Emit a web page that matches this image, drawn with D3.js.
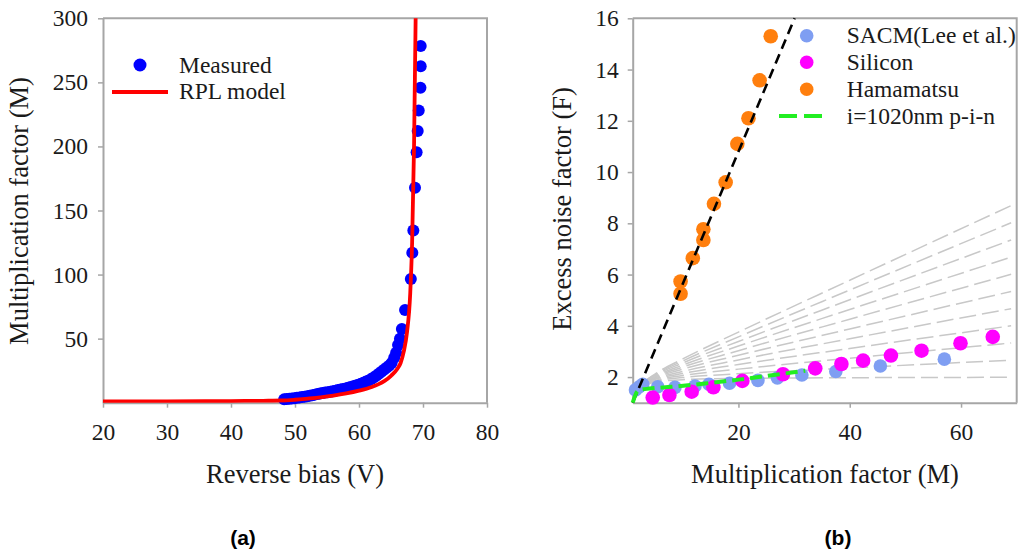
<!DOCTYPE html>
<html>
<head>
<meta charset="utf-8">
<script src="https://cdn.jsdelivr.net/npm/d3@7"></script>
<style>
  html, body { margin: 0; padding: 0; background: #fff; }
  svg { display: block; }
  text { font-family: "Liberation Serif", "Times New Roman", serif; fill: #1a1a1a; }
  text.panel { font-family: "Liberation Sans", Arial, sans-serif; font-weight: bold; fill: #000; }
</style>
</head>
<body>
<svg id="fig" width="1019" height="553"></svg>
<script>
// ---------- Panel (a): multiplication factor vs reverse bias ----------
const biasTicks = [20, 30, 40, 50, 60, 70, 80];
const gainTicksA = [50, 100, 150, 200, 250, 300];

const measuredV = [48.3, 48.7, 49.1, 49.5, 49.9, 50.3, 50.7, 51.1, 51.5, 51.9,
  52.3, 52.7, 53.1, 53.5, 53.9, 54.3, 54.7, 55.1, 55.5, 55.9,
  56.3, 56.7, 57.1, 57.5, 57.9, 58.3, 58.7, 59.1, 59.5, 59.9,
  60.3, 60.7, 61.1, 61.5, 61.9, 62.3, 62.7, 63.1, 63.5, 63.9,
  64.3, 64.7, 65.1, 65.5, 65.8, 66.1, 66.4, 66.7, 67.2, 68.1,
  68.33, 68.49, 68.75, 69.0, 69.17, 69.33, 69.6, 69.64, 69.64];
const measuredM = [2.6, 2.8, 3.0, 3.3, 3.5, 3.8, 4.1, 4.4, 4.7, 5.1,
  5.5, 5.9, 6.3, 6.7, 7.1, 7.5, 7.9, 8.2, 8.6, 9.0,
  9.4, 9.9, 10.3, 10.7, 11.1, 11.6, 12.2, 12.8, 13.4, 14.0,
  14.8, 15.6, 16.5, 17.4, 18.4, 19.6, 21.0, 22.6, 24.2, 25.8,
  27.2, 28.8, 31, 35, 39, 45, 50, 57.5, 72.4, 96.6,
  117, 134.4, 167.7, 195.5, 212, 228, 245.8, 262.5, 278.4];

const modelV = [20, 30, 40, 45, 48, 50, 52, 54, 56, 58, 60, 62, 63, 64, 65, 66, 66.5, 67, 67.5, 68, 68.3, 68.6, 68.85];
const modelM = [1, 1.1, 1.3, 1.5, 1.7, 2.3, 3.2, 4.2, 5.5, 7.2, 9.4, 12.3, 14.3, 17, 21, 26.5, 31, 40, 55, 85, 125, 200, 300];

// ---------- Panel (b): excess noise factor vs multiplication factor ----------
const gainTicksB = [20, 40, 60];
const noiseTicks = [2, 4, 6, 8, 10, 12, 14, 16];

const sacmM = [1.5, 2.2, 2.8, 5.5, 8.6, 12.2, 14.7, 18.4, 23.5, 27.0, 31.4, 37.5, 45.5, 57.0];
const sacmF = [1.5, 1.62, 1.72, 1.62, 1.6, 1.65, 1.72, 1.76, 1.87, 1.97, 2.08, 2.22, 2.43, 2.70];

const siliconM = [4.6, 7.6, 11.6, 15.5, 20.7, 28.0, 33.8, 38.5, 42.4, 47.4, 52.9, 59.9, 65.7];
const siliconF = [1.2, 1.3, 1.43, 1.6, 1.85, 2.11, 2.34, 2.51, 2.64, 2.84, 3.03, 3.32, 3.57];

const hamamatsuM = [9.6, 9.6, 11.8, 13.7, 13.7, 15.6, 17.7, 19.8, 21.8, 23.8, 25.8];
const hamamatsuF = [5.25, 5.73, 6.64, 7.35, 7.77, 8.76, 9.6, 11.1, 12.1, 13.58, 15.3];

// straight-line fit through the Hamamatsu data
const hamamatsuFitM = [1, 30.1];
const hamamatsuFitF = [1, 16];

// i = 1020 nm p-i-n simulation
const pinM = [1, 1.3, 1.7, 2.3, 4, 8, 14, 20, 26, 32];
const pinF = [1, 1.2, 1.4, 1.5, 1.55, 1.62, 1.75, 1.9, 2.07, 2.25];

// McIntyre reference curves, k = 0 ... 0.1
const kValues = [0, 0.01, 0.02, 0.03, 0.04, 0.05, 0.06, 0.07, 0.08, 0.09, 0.1];
const kCurveM = [1, 1.5, 2, 3, 5, 10, 20, 40, 69];
const kCurveF = [
  [1, 1.333, 1.5, 1.667, 1.80, 1.90, 1.95, 1.975, 1.99],
  [1, 1.335, 1.505, 1.68, 1.83, 1.98, 2.13, 2.355, 2.66],
  [1, 1.337, 1.51, 1.69, 1.86, 2.06, 2.31, 2.736, 3.33],
  [1, 1.338, 1.515, 1.71, 1.90, 2.14, 2.49, 3.116, 4.00],
  [1, 1.34, 1.52, 1.72, 1.93, 2.22, 2.67, 3.496, 4.67],
  [1, 1.342, 1.525, 1.73, 1.96, 2.31, 2.85, 3.876, 5.34],
  [1, 1.343, 1.53, 1.75, 1.99, 2.39, 3.03, 4.257, 6.01],
  [1, 1.345, 1.535, 1.76, 2.02, 2.47, 3.21, 4.637, 6.68],
  [1, 1.347, 1.54, 1.77, 2.06, 2.55, 3.39, 5.017, 7.35],
  [1, 1.348, 1.545, 1.79, 2.09, 2.63, 3.57, 5.397, 8.02],
  [1, 1.35, 1.55, 1.80, 2.12, 2.71, 3.755, 5.778, 8.69]
];

// ---------- drawing ----------
const svg = d3.select("#fig");
const AXIS = "#a6a6a6";
const FS = 23.5;

function styleAxis(g) {
  g.select(".domain").attr("stroke", AXIS).attr("stroke-width", 2);
  g.selectAll(".tick line").attr("stroke", AXIS).attr("stroke-width", 1.5);
  g.selectAll(".tick text").attr("font-size", FS)
    .style("font-family", "'Liberation Serif', 'Times New Roman', serif")
    .style("fill", "#1a1a1a");
}

function frame(x0, x1, y0, y1) {
  svg.append("path")
    .attr("d", `M${x0},${y0}H${x1}V${y1}`)
    .attr("fill", "none").attr("stroke", AXIS).attr("stroke-width", 2);
}

// ----- panel (a) -----
const ax = d3.scaleLinear().domain([20, 80]).range([103, 487]);
const ay = d3.scaleLinear().domain([0, 300]).range([402.7, 18.3]);

frame(103, 487, 18.3, 402.7);

svg.append("g").attr("transform", `translate(0,${ay(0)})`)
  .call(d3.axisBottom(ax).tickValues(biasTicks).tickSize(5).tickSizeOuter(0).tickPadding(16))
  .call(styleAxis);
svg.append("g").attr("transform", `translate(${ax(20)},0)`)
  .call(d3.axisLeft(ay).tickValues(gainTicksA).tickSize(5).tickSizeOuter(0).tickPadding(10))
  .call(styleAxis);

svg.append("clipPath").attr("id", "clipA")
  .append("rect").attr("x", ax(20)).attr("y", ay(300) - 1)
  .attr("width", ax(80) - ax(20)).attr("height", ay(0) - ay(300) + 1);

svg.append("g").selectAll("circle")
  .data(d3.range(measuredV.length))
  .join("circle")
  .attr("cx", i => ax(measuredV[i]))
  .attr("cy", i => ay(measuredM[i]))
  .attr("r", 6)
  .attr("fill", "#0000ff");

svg.append("path")
  .datum(d3.range(modelV.length))
  .attr("clip-path", "url(#clipA)")
  .attr("d", d3.line().x(i => ax(modelV[i])).y(i => ay(modelM[i])).curve(d3.curveMonotoneX))
  .attr("fill", "none").attr("stroke", "#ff0000").attr("stroke-width", 3.8);

// legend (a)
svg.append("circle").attr("cx", 140).attr("cy", 65).attr("r", 6.5).attr("fill", "#0000ff");
svg.append("text").attr("x", 179).attr("y", 73).attr("font-size", FS).text("Measured");
svg.append("line").attr("x1", 112).attr("x2", 168).attr("y1", 92).attr("y2", 92)
  .attr("stroke", "#ff0000").attr("stroke-width", 4);
svg.append("text").attr("x", 179).attr("y", 99).attr("font-size", FS).text("RPL model");

svg.append("text").attr("x", 295).attr("y", 483).attr("text-anchor", "middle")
  .attr("font-size", 26.5).text("Reverse bias (V)");
svg.append("text").attr("transform", "translate(28,211) rotate(-90)")
  .attr("text-anchor", "middle").attr("font-size", 26.5).text("Multiplication factor (M)");

svg.append("text").attr("class", "panel").attr("x", 243).attr("y", 545)
  .attr("text-anchor", "middle").attr("font-size", 21).text("(a)");

// ----- panel (b) -----
const bx = d3.scaleLinear().domain([1, 70]).range([632.7, 1016.7]);
const by = d3.scaleLinear().domain([1, 16]).range([402.7, 18.3]);

svg.append("clipPath").attr("id", "clipB")
  .append("rect").attr("x", bx(1)).attr("y", by(16))
  .attr("width", bx(70) - bx(1)).attr("height", by(1) - by(16));

const kLine = d3.line().curve(d3.curveMonotoneX);
svg.append("g").attr("clip-path", "url(#clipB)")
  .selectAll("path")
  .data(kValues.map((k, j) => kCurveM.map((m, i) => [bx(m), by(kCurveF[j][i])])))
  .join("path")
  .attr("d", kLine)
  .attr("fill", "none").attr("stroke", "#c8c8c8").attr("stroke-width", 1.5)
  .attr("stroke-dasharray", "17,6");

frame(632.7, 1016.7, 18.3, 402.7);

svg.append("g").attr("transform", `translate(0,${by(1)})`)
  .call(d3.axisBottom(bx).tickValues(gainTicksB).tickSize(5).tickSizeOuter(0).tickPadding(16))
  .call(styleAxis);
svg.append("g").attr("transform", `translate(${bx(1)},0)`)
  .call(d3.axisLeft(by).tickValues(noiseTicks).tickSize(5).tickSizeOuter(0).tickPadding(9))
  .call(styleAxis);

function dots(ms, fs, color, r) {
  svg.append("g").selectAll("circle")
    .data(d3.range(ms.length))
    .join("circle")
    .attr("cx", i => bx(ms[i]))
    .attr("cy", i => by(fs[i]))
    .attr("r", r)
    .attr("fill", color);
}

const SACM_C = "#7f9ef2", SI_C = "#ff00ff", HAM_C = "#ff7f0e", PIN_C = "#22ee22";

dots(sacmM, sacmF, SACM_C, 6.8);
dots(siliconM, siliconF, SI_C, 7.3);
dots(hamamatsuM, hamamatsuF, HAM_C, 7.3);

svg.append("path")
  .datum(d3.range(hamamatsuFitM.length))
  .attr("d", d3.line().x(i => bx(hamamatsuFitM[i])).y(i => by(hamamatsuFitF[i])))
  .attr("fill", "none").attr("stroke", "#000").attr("stroke-width", 2.6)
  .attr("stroke-dasharray", "10,6");

svg.append("path")
  .datum(d3.range(pinM.length))
  .attr("d", d3.line().x(i => bx(pinM[i])).y(i => by(pinF[i])).curve(d3.curveMonotoneX))
  .attr("fill", "none").attr("stroke", PIN_C).attr("stroke-width", 4)
  .attr("stroke-dasharray", "12,6");

// legend (b)
const legB = [
  { label: "SACM(Lee et al.)", color: SACM_C, y: 35.7 },
  { label: "Silicon", color: SI_C, y: 62.3 },
  { label: "Hamamatsu", color: HAM_C, y: 89.3 }
];
legB.forEach(d => {
  svg.append("circle").attr("cx", 806.7).attr("cy", d.y).attr("r", 6.8).attr("fill", d.color);
  svg.append("text").attr("x", 846.7).attr("y", d.y + 7.5).attr("font-size", FS).text(d.label);
});
svg.append("line").attr("x1", 779).attr("x2", 825).attr("y1", 116).attr("y2", 116)
  .attr("stroke", PIN_C).attr("stroke-width", 4).attr("stroke-dasharray", "18,7");
svg.append("text").attr("x", 846.7).attr("y", 123.5).attr("font-size", FS).text("i=1020nm p-i-n");

svg.append("text").attr("x", 825).attr("y", 483).attr("text-anchor", "middle")
  .attr("font-size", 26.5).text("Multiplication factor (M)");
svg.append("text").attr("transform", "translate(571,209) rotate(-90)")
  .attr("text-anchor", "middle").attr("font-size", 26.5).text("Excess noise factor (F)");

svg.append("text").attr("class", "panel").attr("x", 838).attr("y", 545)
  .attr("text-anchor", "middle").attr("font-size", 21).text("(b)");
</script>
</body>
</html>
